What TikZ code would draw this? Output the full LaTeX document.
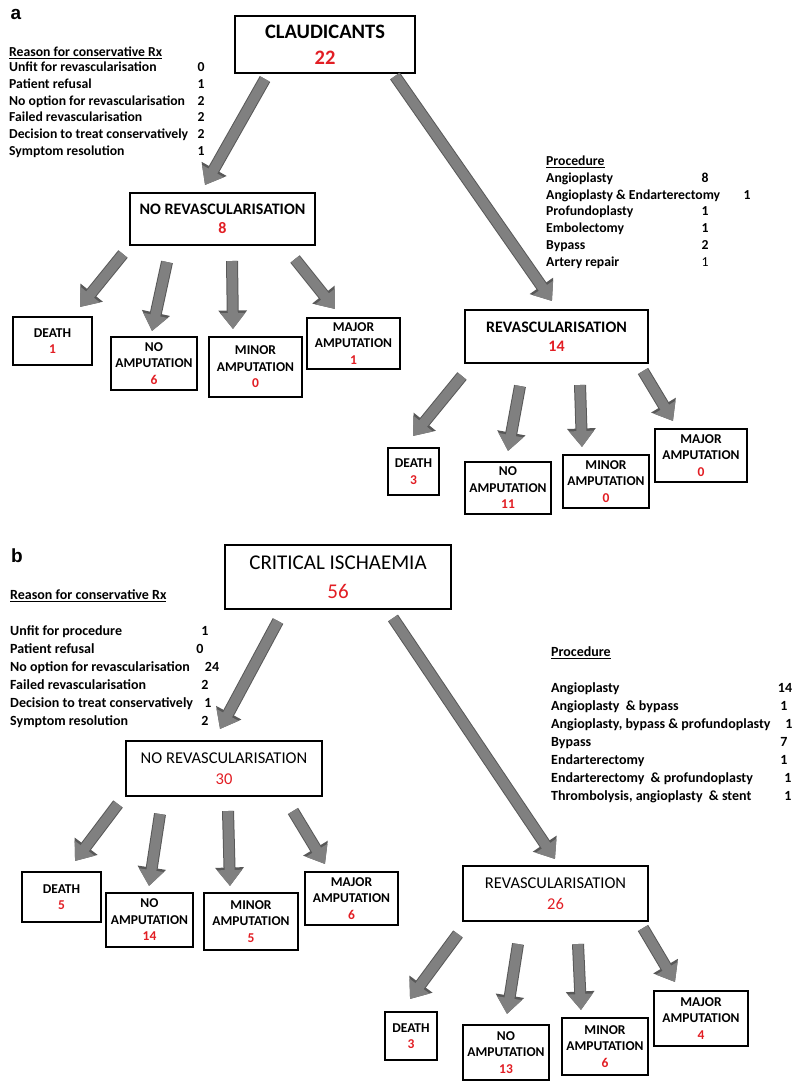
\documentclass[tikz,border=0pt]{standalone}
\usepackage{fontspec}
\setmainfont{Carlito}
\newfontfamily\panelfont{Liberation Sans}
\usepackage{xcolor}
\usetikzlibrary{arrows.meta}
\definecolor{cntred}{RGB}{226,30,36}
\definecolor{arrowgray}{RGB}{128,128,128}
\definecolor{arrowedge}{RGB}{88,88,88}
\newcommand{\redcount}[1]{\textcolor{cntred}{#1}}

\begin{document}
\begin{tikzpicture}[x=1pt,y=-1pt,
  box/.style={draw=black,line width=2pt,fill=white,align=center,inner sep=1pt,
    font=\bfseries\fontsize{13.5}{16.5}\selectfont},
  midbox/.style={box,font=\bfseries\fontsize{16}{19.5}\selectfont},
  midplain/.style={box,font=\fontsize{16.5}{20.5}\selectfont},
  topbox/.style={box,font=\bfseries\fontsize{20.5}{26}\selectfont},
  topplain/.style={box,font=\fontsize{21}{29}\selectfont},
  listtxt/.style={anchor=base west,inner sep=0pt,font=\bfseries\fontsize{13.7}{16}\selectfont},
  listnum/.style={anchor=base,inner sep=0pt,font=\bfseries\fontsize{13.7}{16}\selectfont},
  listtxtb/.style={listtxt,font=\bfseries\fontsize{14}{16}\selectfont},
  listnumb/.style={listnum,font=\bfseries\fontsize{14}{16}\selectfont},
  panellabel/.style={inner sep=0pt,font=\panelfont\bfseries\fontsize{19}{20}\selectfont},
  fatarrow/.style={draw=arrowgray,line width=10pt,-{Triangle[length=16pt,width=24pt]},
    preaction={draw=arrowedge,line width=12pt,-{Triangle[length=18.5pt,width=27.5pt]}}}
]
\useasboundingbox (0,0) rectangle (793,1082);

% panel a
\node[panellabel] (la) at (16,14) {a};
\node[topbox,minimum width=180pt,minimum height=57pt] (cl) at (325,44.5) {CLAUDICANTS\\\redcount{22}};

\node[listtxt] (reasona) at (9,56.5) {\underline{Reason for conservative Rx}};
\foreach \txt/\num [count=\i from 0] in {Unfit for revascularisation/0, Patient refusal/1,
    No option for revascularisation/2, Failed revascularisation/2,
    Decision to treat conservatively/2, Symptom resolution/1}
  {\node[listtxt] (rsa\i) at (9,{71.5+16.8*\i}) {\txt};
   \node[listnum] (rna\i) at (201,{71.5+16.8*\i}) {\num};}

\node[listtxt] (proca) at (546,165.5) {\underline{Procedure}};
\foreach \txt/\num/\nx [count=\i from 0] in {Angioplasty/8/705, Angioplasty \& Endarterectomy/1/747,
    Profundoplasty/1/705, Embolectomy/1/705, Bypass/2/705, Artery repair/{\mdseries 1}/705}
  {\node[listtxt] (psa\i) at (546,{182.5+16.7*\i}) {\txt};
   \node[listnum] (pna\i) at (\nx,{182.5+16.7*\i}) {\num};}

\node[midbox,minimum width=185pt,minimum height=52pt] (nra) at (222.5,219) {NO REVASCULARISATION\\\redcount{8}};
\node[box,minimum width=79pt,minimum height=48pt] (da) at (52.5,341) {DEATH\\\redcount{1}};
\node[box,minimum width=86pt,minimum height=53pt] (naa) at (154,363.5) {NO\\AMPUTATION\\\redcount{6}};
\node[box,minimum width=93pt,minimum height=60pt] (mia) at (255.5,367) {MINOR\\AMPUTATION\\\redcount{0}};
\node[box,minimum width=93pt,minimum height=51pt] (maa) at (353.5,343.5) {MAJOR\\AMPUTATION\\\redcount{1}};

\node[midbox,minimum width=183pt,minimum height=53pt] (rva) at (556.5,336.5) {REVASCULARISATION\\\redcount{14}};
\node[box,minimum width=51pt,minimum height=47pt] (dra) at (413.5,471.5) {DEATH\\\redcount{3}};
\node[box,minimum width=86pt,minimum height=52pt] (nora) at (508,488) {NO\\AMPUTATION\\\redcount{11}};
\node[box,minimum width=86pt,minimum height=53pt] (mra) at (606,481.5) {MINOR\\AMPUTATION\\\redcount{0}};
\node[box,minimum width=92pt,minimum height=53pt] (jra) at (701,455.5) {MAJOR\\AMPUTATION\\\redcount{0}};

\draw[fatarrow] ([shift={(-60,5)}]cl.south) -- ([shift={(-17.5,-7)}]nra.north);
\draw[fatarrow] ([shift={(70,2)}]cl.south) -- ([shift={(-4.5,-8)}]rva.north);
\draw[fatarrow] ([shift={(-99.5,8)}]nra.south) -- ([shift={(27.5,-9)}]da.north);
\draw[fatarrow] ([shift={(-55.5,16)}]nra.south) -- ([shift={(-2,-5)}]naa.north);
\draw[fatarrow] ([shift={(9.5,15)}]nra.south) -- ([shift={(-22.5,-7)}]mia.north);
\draw[fatarrow] ([shift={(72.5,13)}]nra.south) -- ([shift={(-18.5,-8)}]maa.north);
\draw[fatarrow] ([shift={(-94.5,12)}]rva.south) -- ([shift={(-0.5,-11)}]dra.north);
\draw[fatarrow] ([shift={(-36.5,22)}]rva.south) -- ([shift={(0,-10)}]nora.north);
\draw[fatarrow] ([shift={(23.5,21)}]rva.south) -- ([shift={(-24,-7)}]mra.north);
\draw[fatarrow] ([shift={(86.5,7)}]rva.south) -- ([shift={(-28,-7)}]jra.north);

% panel b
\node[panellabel] (lb) at (17,556) {b};
\node[topplain,minimum width=226pt,minimum height=64pt] (ci) at (338,577) {CRITICAL ISCHAEMIA\\\redcount{56}};

\node[listtxtb] (reasonb) at (10,599.5) {\underline{Reason for conservative Rx}};
\foreach \txt/\num/\nx [count=\i from 0] in {Unfit for procedure/1/205, Patient refusal/0/200,
    No option for revascularisation/24/212, Failed revascularisation/2/205,
    Decision to treat conservatively/1/208, Symptom resolution/2/205}
  {\node[listtxtb] (rsb\i) at (10,{635.5+18*\i}) {\txt};
   \node[listnumb] (rnb\i) at (\nx,{635.5+18*\i}) {\num};}

\node[listtxtb] (procb) at (551,656.5) {\underline{Procedure}};
\foreach \txt/\num/\nx [count=\i from 0] in {Angioplasty/14/785, Angioplasty \ \& bypass/1/784,
    {Angioplasty, bypass \& profundoplasty}/1/789, Bypass/7/784, Endarterectomy/1/784,
    Endarterectomy \ \& profundoplasty/1/788, {Thrombolysis, angioplasty \ \& stent}/1/788}
  {\node[listtxtb] (psb\i) at (551,{692.5+18*\i}) {\txt};
   \node[listnumb] (pnb\i) at (\nx,{692.5+18*\i}) {\num};}

\node[midplain,minimum width=196pt,minimum height=55pt] (nrb) at (224,768.5) {NO REVASCULARISATION\\\redcount{30}};
\node[box,minimum width=79pt,minimum height=50pt] (db) at (61.5,897) {DEATH\\\redcount{5}};
\node[box,minimum width=87pt,minimum height=54pt] (nab) at (149.5,920) {NO\\AMPUTATION\\\redcount{14}};
\node[box,minimum width=94pt,minimum height=57pt] (mib) at (251,921.5) {MINOR\\AMPUTATION\\\redcount{5}};
\node[box,minimum width=93pt,minimum height=53pt] (mab) at (351.5,898.5) {MAJOR\\AMPUTATION\\\redcount{6}};

\node[midplain,minimum width=185pt,minimum height=55pt] (rvb) at (555.5,893.5) {REVASCULARISATION\\\redcount{26}};
\node[box,minimum width=52pt,minimum height=48pt] (drb) at (411,1036) {DEATH\\\redcount{3}};
\node[box,minimum width=86pt,minimum height=55pt] (norb) at (506,1052.5) {NO\\AMPUTATION\\\redcount{13}};
\node[box,minimum width=86pt,minimum height=57pt] (mrb) at (605,1046.5) {MINOR\\AMPUTATION\\\redcount{6}};
\node[box,minimum width=94pt,minimum height=55pt] (jrb) at (701,1018.5) {MAJOR\\AMPUTATION\\\redcount{4}};

\draw[fatarrow] ([shift={(-60,11)}]ci.south) -- ([shift={(-4,-11)}]nrb.north);
\draw[fatarrow] ([shift={(55,8)}]ci.south) -- ([shift={(-0.5,-6)}]rvb.north);
\draw[fatarrow] ([shift={(-106,7)}]nrb.south) -- ([shift={(13.5,-10)}]db.north);
\draw[fatarrow] ([shift={(-64,17)}]nrb.south) -- ([shift={(-0.5,-6)}]nab.north);
\draw[fatarrow] ([shift={(4,14)}]nrb.south) -- ([shift={(-21,-6)}]mib.north);
\draw[fatarrow] ([shift={(69,14)}]nrb.south) -- ([shift={(-26.5,-7)}]mab.north);
\draw[fatarrow] ([shift={(-97.5,12)}]rvb.south) -- ([shift={(-1,-12)}]drb.north);
\draw[fatarrow] ([shift={(-37.5,22)}]rvb.south) -- ([shift={(1,-10)}]norb.north);
\draw[fatarrow] ([shift={(22.5,22)}]rvb.south) -- ([shift={(-24,-7)}]mrb.north);
\draw[fatarrow] ([shift={(87.5,6)}]rvb.south) -- ([shift={(-26,-8)}]jrb.north);

\end{tikzpicture}
\end{document}
